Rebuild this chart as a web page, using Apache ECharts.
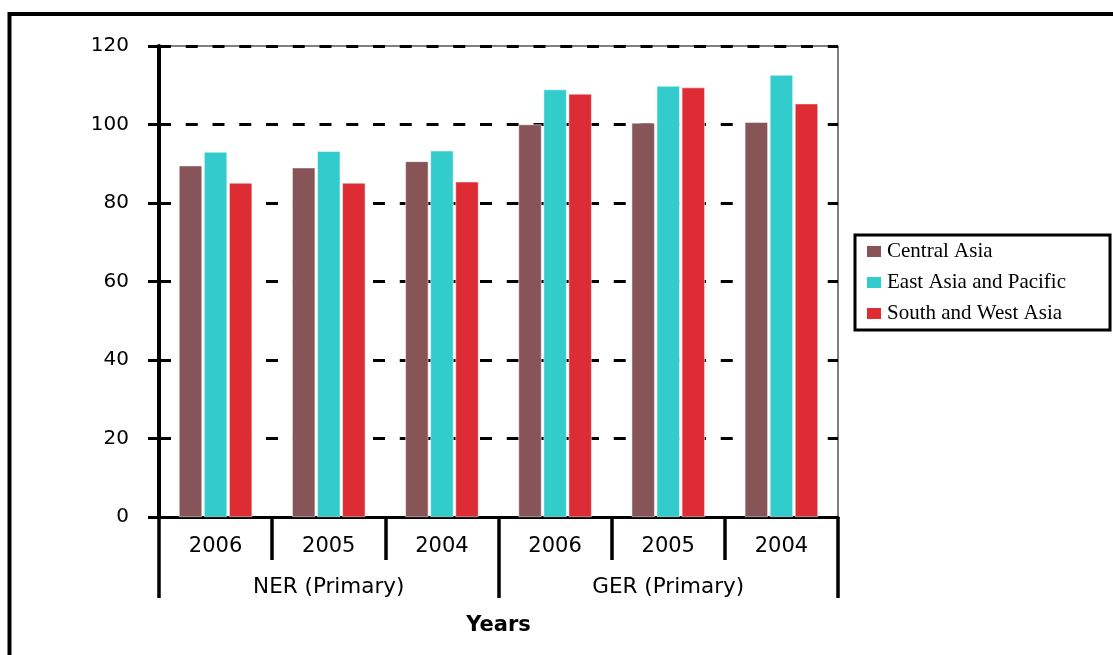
<!DOCTYPE html>
<html>
<head>
<meta charset="utf-8">
<script src="https://cdn.jsdelivr.net/npm/echarts@6/dist/echarts.min.js"></script>
<style>
  html, body { margin: 0; padding: 0; background: #fff; }
  #chart { width: 1113px; height: 655px; }
</style>
</head>
<body>
<div id="chart"></div>
<script>
  // data
  var years = ['2006', '2005', '2004', '2006', '2005', '2004'];
  var groups = ['NER (Primary)', 'GER (Primary)'];
  var centralAsia = [89.5, 89.0, 90.6, 100.0, 100.4, 100.6];
  var eastAsia = [93.0, 93.2, 93.3, 108.9, 109.8, 112.6];
  var southWestAsia = [85.1, 85.1, 85.4, 107.8, 109.4, 105.3];
  var seriesNames = ['Central Asia', 'East Asia and Pacific', 'South and West Asia'];

  var chart = echarts.init(document.getElementById('chart'));
  var font = 'DejaVu Sans, Verdana, sans-serif';

  function bar(name, data, color) {
    return {
      name: name,
      type: 'bar',
      xAxisIndex: 0,
      data: data,
      barWidth: 23,
      barGap: '9%',
      itemStyle: { color: color, borderColor: '#fff', borderWidth: 0.5 }
    };
  }

  chart.setOption({
    animation: false,
    backgroundColor: '#fff',
    graphic: [{
      type: 'rect',
      shape: { x: 9.5, y: 14, width: 1200, height: 700 },
      style: { fill: 'none', stroke: '#000', lineWidth: 4 },
      z: 100
    }],
    grid: {
      left: 159, right: 275, top: 46, bottom: 138,
      show: true, borderColor: '#000', borderWidth: 1,
      backgroundColor: 'transparent'
    },
    legend: {
      orient: 'vertical',
      left: 855, top: 235,
      padding: [6, 44, 6, 10],
      itemWidth: 16, itemHeight: 13, itemGap: 10,
      borderColor: '#000', borderWidth: 3,
      icon: 'rect',
      textStyle: { fontFamily: 'Liberation Serif, Times New Roman, serif', fontSize: 21, color: '#000' },
      data: seriesNames
    },
    xAxis: [{
      type: 'category',
      position: 'bottom',
      data: years,
      axisLine: { show: true, lineStyle: { color: '#000', width: 3 } },
      axisTick: { show: true, interval: 0, length: 43, lineStyle: { color: '#000', width: 3.5 } },
      axisLabel: { interval: 0, margin: 19, fontFamily: font, fontSize: 21, color: '#000' }
    }, {
      type: 'category',
      position: 'bottom',
      data: groups,
      name: 'Years',
      nameLocation: 'middle',
      nameGap: 98,
      nameTextStyle: { fontFamily: font, fontSize: 21, fontWeight: 'bold', color: '#000' },
      axisLine: { show: false },
      axisTick: { show: true, interval: 0, length: 81, lineStyle: { color: '#000', width: 3.5 } },
      axisLabel: { interval: 0, margin: 59, fontFamily: font, fontSize: 21.5, color: '#000' }
    }],
    yAxis: {
      type: 'value',
      min: 0, max: 120, interval: 20,
      axisLine: { show: true, lineStyle: { color: '#000', width: 4 } },
      axisTick: { show: true, length: 11, lineStyle: { color: '#000', width: 3 } },
      axisLabel: { margin: 30, fontFamily: font, fontSize: 20, color: '#000' },
      splitLine: { show: true, lineStyle: { color: '#000', width: 3, type: [12, 14.75] } }
    },
    series: [
      bar(seriesNames[0], centralAsia, '#875457'),
      bar(seriesNames[1], eastAsia, '#33CCCC'),
      bar(seriesNames[2], southWestAsia, '#DD2C33')
    ]
  });
</script>
</body>
</html>
